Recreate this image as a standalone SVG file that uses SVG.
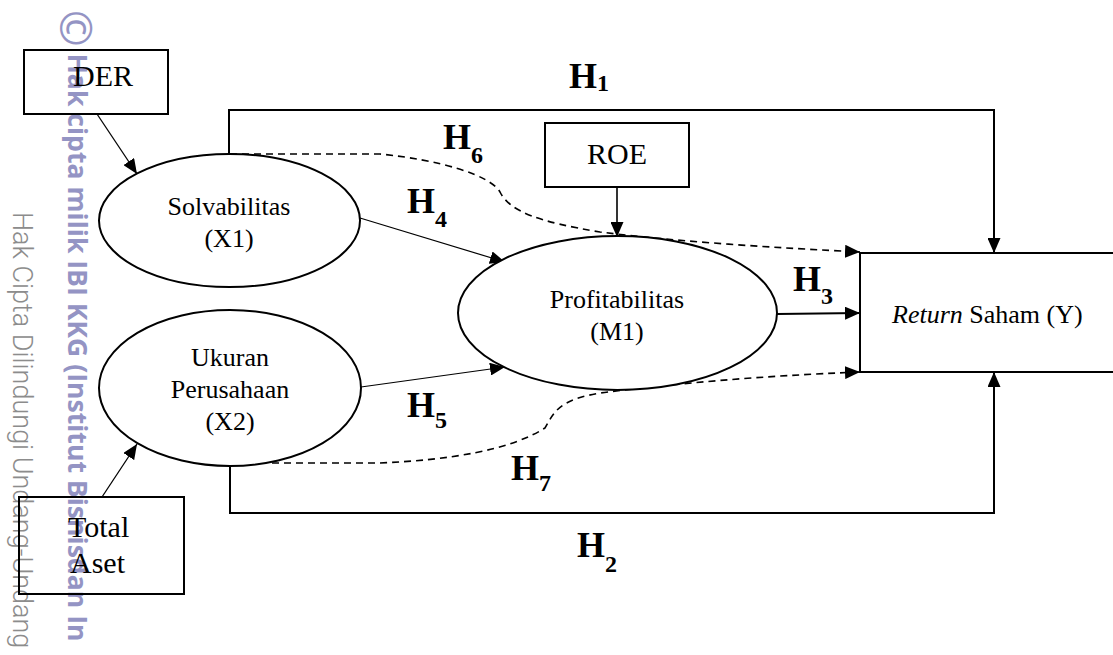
<svg xmlns="http://www.w3.org/2000/svg" width="1113" height="655" viewBox="0 0 1113 655">
<defs>
<style>
.box{fill:none;stroke:#000;stroke-width:2}
.ell{fill:#fff;stroke:#000;stroke-width:2}
.lbl{font-family:"Liberation Serif","Times New Roman",serif;fill:#000}
.bl{font-size:30px}
.el{font-size:26px;text-anchor:middle}
.h{font-family:"Liberation Serif","Times New Roman",serif;font-weight:bold;font-size:36px;fill:#000}
.sub{font-size:24px}
.ln{fill:none;stroke:#000}
.dash{fill:none;stroke:#000;stroke-width:1.6;stroke-dasharray:7,5}
.wm1{font-family:"Open Sans","Noto Sans",sans-serif;font-weight:bold;font-size:26.6px;fill:#9494c4}
.wm2{font-family:Roboto,"Open Sans",sans-serif;font-weight:300;font-size:27px;fill:#8c8c8c}
</style>
<marker id="ah" markerUnits="userSpaceOnUse" markerWidth="15" markerHeight="13" refX="15" refY="6.5" orient="auto">
<path d="M0,0 L15,6.5 L0,13 z" fill="#000"/>
</marker>
</defs>
<rect width="1113" height="655" fill="#fff"/>
<g id="watermark">
<text class="wm1" transform="translate(68,10) rotate(90)"><tspan font-size="44" font-weight="normal" dy="8">©</tspan><tspan dy="-8"> Hak cipta milik IBI KKG (Institut Bisnisdan In</tspan></text>
<text class="wm2" transform="translate(13,212) rotate(90)">Hak Cipta Dilindungi Undang-Undang</text>
</g>
<g id="connectors">
<path class="ln" stroke-width="2" d="M229,154 L229,110 L994,110 L994,253" marker-end="url(#ah)"/>
<path class="ln" stroke-width="2" d="M230,466 L230,513 L994,513 L994,372" marker-end="url(#ah)"/>
<path class="ln" stroke-width="1.3" d="M97,114 L137,174" marker-end="url(#ah)"/>
<path class="ln" stroke-width="1.3" d="M102,497 L137,444" marker-end="url(#ah)"/>
<path class="ln" stroke-width="1.2" d="M360,218 L505,262" marker-end="url(#ah)"/>
<path class="ln" stroke-width="1.2" d="M361,387 L505,367" marker-end="url(#ah)"/>
<path class="ln" stroke-width="1.6" d="M617,187 L617,237" marker-end="url(#ah)"/>
<path class="ln" stroke-width="2" d="M777,314 L860,313" marker-end="url(#ah)"/>
<path class="dash" d="M230,154 L380,154 C440,160 490,175 500,192 C510,212 540,222 600,232 C680,242 780,248 860,252" marker-end="url(#ah)"/>
<path class="dash" d="M272,463 L380,463 C450,460 510,450 545,428 C555,410 560,400 600,393 C680,383 760,376 860,372" marker-end="url(#ah)"/>
</g>
<g id="node-der">
<rect class="box" x="24" y="50" width="144" height="64"/>
<text class="lbl bl" x="73" y="86">DER</text>
</g>
<g id="node-roe">
<rect class="box" x="545" y="123" width="144" height="64"/>
<text class="lbl bl" x="617" y="164" text-anchor="middle">ROE</text>
</g>
<g id="node-total-aset">
<rect class="box" x="19" y="497" width="165" height="97"/>
<text class="lbl bl" x="68" y="537">Total</text>
<text class="lbl bl" x="70" y="573">Aset</text>
</g>
<g id="node-return">
<rect class="box" x="860" y="253" width="300" height="119"/>
<text class="lbl" font-size="26" x="892" y="323"><tspan font-style="italic">Return</tspan> Saham (Y)</text>
</g>
<g id="node-x1">
<ellipse class="ell" cx="229.5" cy="220.5" rx="130.5" ry="66.5"/>
<text class="lbl el" x="229" y="215">Solvabilitas</text>
<text class="lbl el" x="229" y="247">(X1)</text>
</g>
<g id="node-x2">
<ellipse class="ell" cx="230" cy="388" rx="131" ry="78"/>
<text class="lbl el" x="230" y="366">Ukuran</text>
<text class="lbl el" x="230" y="398">Perusahaan</text>
<text class="lbl el" x="230" y="430">(X2)</text>
</g>
<g id="node-m1">
<ellipse class="ell" cx="617.5" cy="313" rx="159.5" ry="77"/>
<text class="lbl el" x="617" y="308">Profitabilitas</text>
<text class="lbl el" x="617" y="340">(M1)</text>
</g>
<g id="labels">
<text class="h" x="569" y="88">H<tspan class="sub" dy="3">1</tspan></text>
<text class="h" x="577" y="557">H<tspan class="sub" dy="15">2</tspan></text>
<text class="h" x="793" y="291">H<tspan class="sub" dy="13">3</tspan></text>
<text class="h" x="407" y="213">H<tspan class="sub" dy="14">4</tspan></text>
<text class="h" x="407" y="417">H<tspan class="sub" dy="11">5</tspan></text>
<text class="h" x="443" y="149">H<tspan class="sub" dy="14">6</tspan></text>
<text class="h" x="511" y="480">H<tspan class="sub" dy="11">7</tspan></text>
</g>
</svg>
